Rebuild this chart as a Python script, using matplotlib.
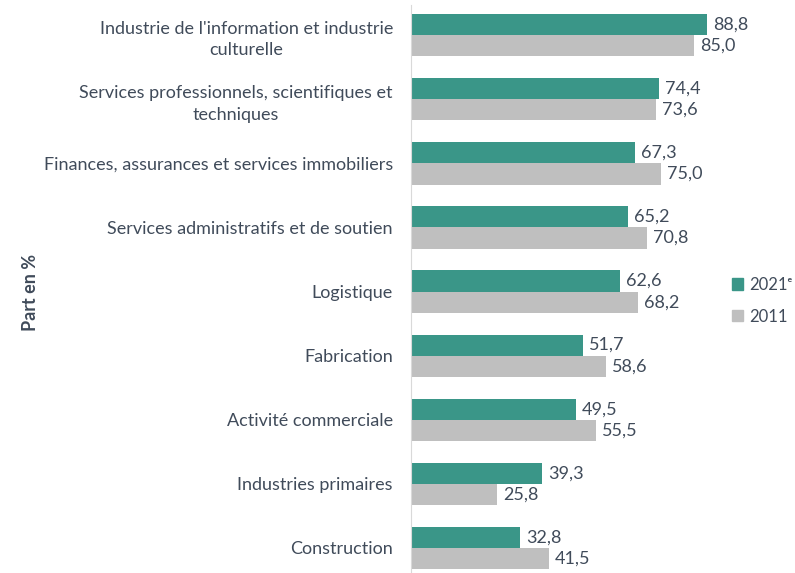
import matplotlib.pyplot as plt
from matplotlib.patches import Patch
import numpy as np

categories = [
    "Industrie de l'information et industrie\nculturelle",
    "Services professionnels, scientifiques et\ntechniques",
    "Finances, assurances et services immobiliers",
    "Services administratifs et de soutien",
    "Logistique",
    "Fabrication",
    "Activité commerciale",
    "Industries primaires",
    "Construction",
]
values_2021 = [88.8, 74.4, 67.3, 65.2, 62.6, 51.7, 49.5, 39.3, 32.8]
values_2011 = [85.0, 73.6, 75.0, 70.8, 68.2, 58.6, 55.5, 25.8, 41.5]
series_labels = ["2021\u1d49", "2011"]

green = "#3A9688"
grey = "#BFBFBF"
txt = "#404B5A"
fs = 13

plt.rcParams["font.family"] = ["Lato", "DejaVu Sans"]

fig = plt.figure(figsize=(7.95, 5.73), dpi=100)
ax = fig.add_axes([0.517, 0.0, 0.419, 1 - 5 / 573])

y = np.arange(len(categories))
h = 0.33
b1 = ax.barh(y - h / 2, values_2021, height=h, color=green)
b2 = ax.barh(y + h / 2, values_2011, height=h, color=grey)

for bars in (b1, b2):
    for bar in bars:
        v = bar.get_width()
        ax.text(v + 1.8, bar.get_y() + bar.get_height() / 2,
                f"{v:.1f}".replace(".", ","), va="center", ha="left",
                fontsize=fs, color=txt)

ax.set_xlim(0, 100)
ax.set_ylim(8.39, -0.47)
ax.set_yticks(y)
ax.set_yticklabels(categories, fontsize=fs, color=txt, ha="right",
                   multialignment="center", linespacing=1.45)
ax.tick_params(axis="y", length=0, pad=13)
ax.set_xticks([])
for s in ["top", "right", "bottom"]:
    ax.spines[s].set_visible(False)
ax.spines["left"].set_color("#D9D9D9")

fig.text(0.038, 0.49, "Part en %", rotation=90, fontsize=fs,
         fontweight="bold", color=txt, ha="center", va="center")

handles = [Patch(color=green), Patch(color=grey)]
fig.legend(handles, series_labels, loc="center left",
           bbox_to_anchor=(0.921, 0.475), frameon=False, fontsize=12,
           labelcolor=txt, handlelength=0.65, handleheight=0.65,
           handletextpad=0.35, labelspacing=0.95, borderpad=0,
           borderaxespad=0)

fig.savefig("out.png", dpi=100)
